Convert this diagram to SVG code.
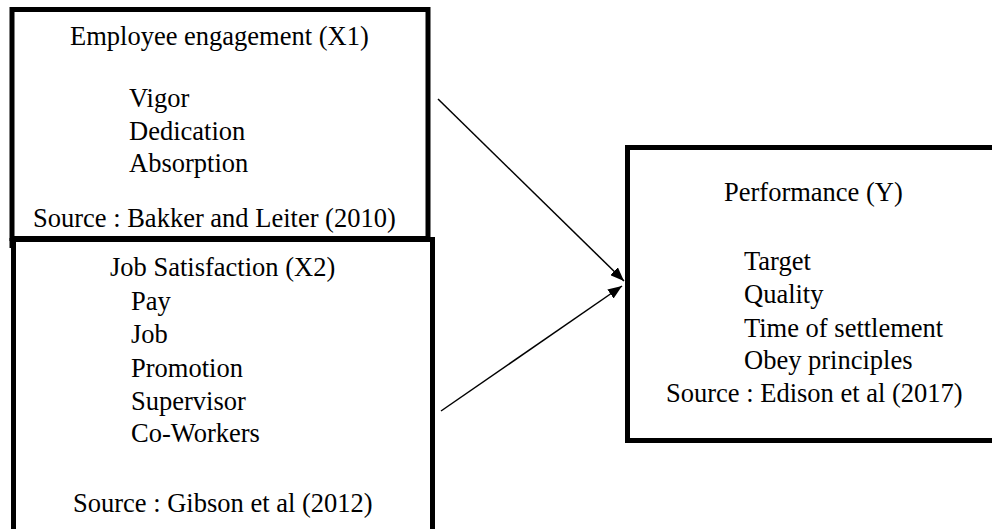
<svg xmlns="http://www.w3.org/2000/svg" width="992" height="529" viewBox="0 0 992 529">
  <style>
    .box { fill: #ffffff; stroke: #000000; stroke-width: 5; }
    .t { font-family: 'Liberation Serif', 'Times New Roman', serif; font-size: 26.5px; fill: #000000; }
    .conn { stroke: #000000; stroke-width: 1.5; fill: none; }
  </style>
  <defs>
    <marker id="arrow" viewBox="0 0 14 11" refX="14" refY="5.5" markerWidth="14" markerHeight="11" markerUnits="userSpaceOnUse" orient="auto">
      <path d="M0,0 L14,5.5 L0,11 Z" fill="#000000"/>
    </marker>
  </defs>
  <rect width="992" height="529" fill="#ffffff"/>

  <g id="node-x1">
    <rect class="box" x="12" y="9.5" width="416" height="229"/>
    <path d="M11.5,238 V248" stroke="#000" stroke-width="4"/>
    <text class="t" x="70" y="45">Employee engagement (X1)</text>
    <text class="t" x="129" y="107">Vigor</text>
    <text class="t" x="129" y="140">Dedication</text>
    <text class="t" x="129" y="172">Absorption</text>
    <text class="t" x="33" y="227">Source : Bakker and Leiter (2010)</text>
  </g>

  <g id="node-x2">
    <rect class="box" x="13.5" y="239.5" width="419" height="310"/>
    <text class="t" x="110" y="276">Job Satisfaction (X2)</text>
    <text class="t" x="131" y="310">Pay</text>
    <text class="t" x="131" y="343">Job</text>
    <text class="t" x="131" y="377">Promotion</text>
    <text class="t" x="131" y="410">Supervisor</text>
    <text class="t" x="131" y="442">Co-Workers</text>
    <text class="t" x="73" y="512">Source : Gibson et al (2012)</text>
  </g>

  <g id="node-y">
    <rect class="box" x="627.5" y="147.5" width="380" height="293"/>
    <text class="t" x="724" y="201">Performance (Y)</text>
    <text class="t" x="744" y="270">Target</text>
    <text class="t" x="744" y="303">Quality</text>
    <text class="t" x="744" y="337">Time of settlement</text>
    <text class="t" x="744" y="369">Obey principles</text>
    <text class="t" x="666" y="402">Source : Edison et al (2017)</text>
  </g>

  <g id="connectors">
    <line class="conn" x1="438" y1="99" x2="624" y2="281" marker-end="url(#arrow)"/>
    <line class="conn" x1="441" y1="411" x2="622" y2="286" marker-end="url(#arrow)"/>
  </g>
</svg>
